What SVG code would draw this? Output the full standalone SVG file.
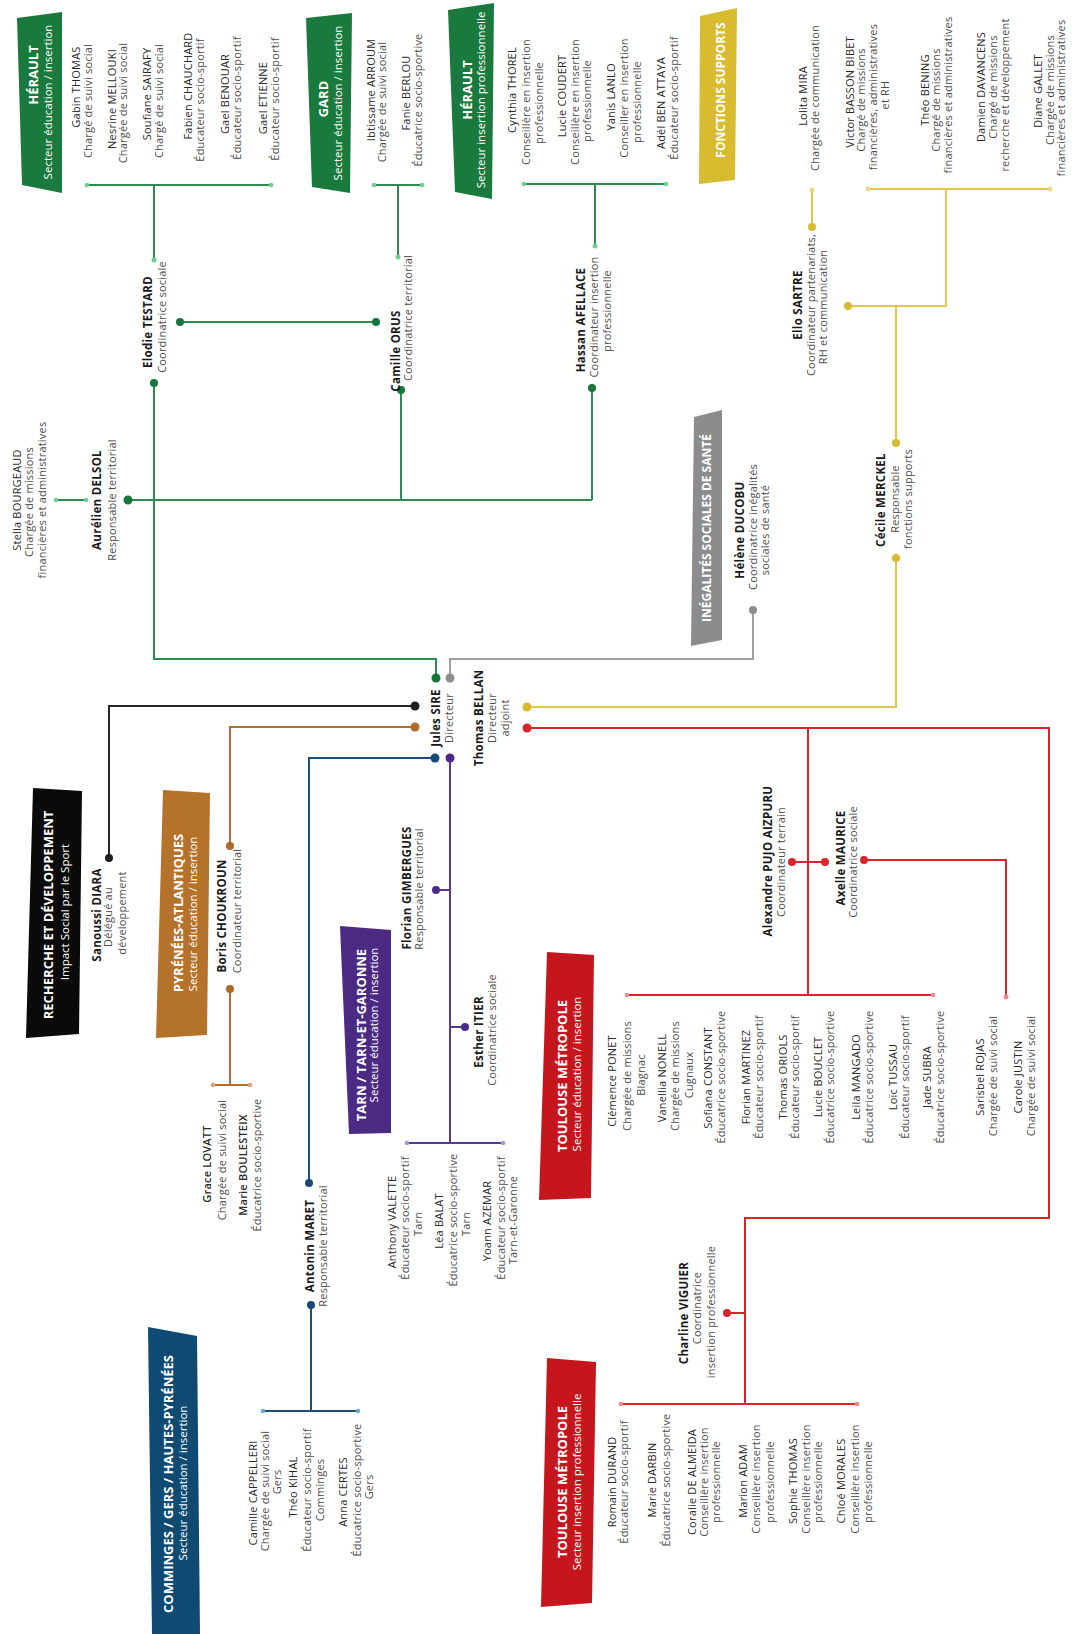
<svg xmlns="http://www.w3.org/2000/svg" width="1077" height="1634" viewBox="0 0 1077 1634">
<style>
text{font-family:"Open Sans","Liberation Sans",sans-serif;text-anchor:middle}
.n{font-size:11px;fill:#2a2a2a;letter-spacing:.2px}
.r{font-size:11px;fill:#4d4d4d;letter-spacing:.2px}
.b{font-size:11.5px;font-weight:700;fill:#1a1a1a;letter-spacing:.3px}
.nb{font-size:11px;font-weight:600;fill:#2a2a2a;letter-spacing:.2px}
.t{font-size:13px;font-weight:700;fill:#fff}
.t12{font-size:12px;font-weight:700;fill:#fff}
.s{font-size:11.5px;fill:#fff}
.ln{fill:none;stroke-width:2}
.g{stroke:#2e8c50}.gy{stroke:#a0a0a0}.y{stroke:#e3c64a}.k{stroke:#262626}.br{stroke:#b5702c}.bl{stroke:#1c4f7c}.pu{stroke:#55389a}.rd{stroke:#d9242b}
.dg{fill:#17763a}.dgl{fill:#6fcf8f}.dgy{fill:#8e8e8e}.dy{fill:#d8b92f}.dyl{fill:#ecd88c}.dk{fill:#1f1f1f}.dbr{fill:#b06a27}.dbrl{fill:#d9a56f}.dbl{fill:#164a76}.dbll{fill:#6aa8d6}.dpu{fill:#4a2b8a}.dpul{fill:#a592d8}.drd{fill:#d9242b}.drdl{fill:#f08a8a}
</style>
<rect width="1077" height="1634" fill="#fff"/>

<g id="connectors">
  <!-- green -->
  <path class="ln g" d="M436,678 V659 H154 V383"/>
  <path class="ln g" d="M180,322 H376"/>
  <path class="ln g" d="M128,500 H592"/>
  <path class="ln g" d="M401,390 V500"/>
  <path class="ln g" d="M592,388 V500"/>
  <path class="ln g" d="M154,260 V185 M87,185 H271"/>
  <path class="ln g" d="M398,257 V185 M374,185 H422"/>
  <path class="ln g" d="M595,246 V184 M524,184 H666"/>
  <path class="ln g" d="M56,500 H86"/>
  <!-- gray -->
  <path class="ln gy" d="M450,678 V659 H753 V610"/>
  <!-- yellow -->
  <path class="ln y" d="M527,707 H896 V558"/>
  <path class="ln y" d="M896,443 V306"/>
  <path class="ln y" d="M848,306 H946 V189"/>
  <path class="ln y" d="M868,189 H1050"/>
  <path class="ln y" d="M812,190 V227"/>
  <!-- black -->
  <path class="ln k" d="M415,706 H109 V858"/>
  <!-- brown -->
  <path class="ln br" d="M415,727 H230 V846"/>
  <path class="ln br" d="M230,989 V1085 M213,1085 H250"/>
  <!-- blue -->
  <path class="ln bl" d="M435,758 H309 V1183"/>
  <path class="ln bl" d="M311,1305 V1411 M263,1411 H358"/>
  <!-- purple -->
  <path class="ln pu" d="M450,758 V1143 M407,1143 H503 M436,890 H450 M450,1027 H465"/>
  <!-- red -->
  <path class="ln rd" d="M527,728 H1049 V1218 H745 V1404"/>
  <path class="ln rd" d="M808,728 V995 M627,995 H933"/>
  <path class="ln rd" d="M792,862 H825"/>
  <path class="ln rd" d="M864,860 H1006 V997"/>
  <path class="ln rd" d="M727,1313 H745"/>
  <path class="ln rd" d="M621,1404 H857"/>
  <!-- dots -->
  <g class="dg">
    <circle cx="436" cy="678" r="4.5"/><circle cx="154" cy="383" r="4"/><circle cx="180" cy="322" r="4"/><circle cx="376" cy="322" r="4"/><circle cx="401" cy="390" r="4"/><circle cx="592" cy="388" r="4"/><circle cx="128" cy="500" r="4.5"/>
  </g>
  <g class="dgl">
    <circle cx="87" cy="185" r="2.3"/><circle cx="271" cy="185" r="2.3"/><circle cx="154" cy="260" r="2.5"/><circle cx="374" cy="185" r="2.3"/><circle cx="422" cy="185" r="2.3"/><circle cx="398" cy="257" r="2.5"/><circle cx="524" cy="184" r="2.3"/><circle cx="666" cy="184" r="2.3"/><circle cx="595" cy="246" r="2.5"/><circle cx="56" cy="500" r="2.3"/><circle cx="86" cy="500" r="2.3"/>
  </g>
  <g class="dgy"><circle cx="450" cy="678" r="4.5"/><circle cx="753" cy="610" r="4"/></g>
  <g class="dy"><circle cx="527" cy="707" r="4.5"/><circle cx="896" cy="558" r="4"/><circle cx="896" cy="443" r="4"/><circle cx="848" cy="306" r="4"/><circle cx="812" cy="227" r="4"/></g>
  <g class="dyl"><circle cx="868" cy="189" r="2.5"/><circle cx="1050" cy="189" r="2.5"/><circle cx="812" cy="190" r="2.5"/></g>
  <g class="dk"><circle cx="415" cy="706" r="4.5"/><circle cx="109" cy="858" r="4"/></g>
  <g class="dbr"><circle cx="415" cy="727" r="4.5"/><circle cx="230" cy="846" r="4"/><circle cx="230" cy="989" r="4"/></g>
  <g class="dbrl"><circle cx="213" cy="1085" r="2.3"/><circle cx="250" cy="1085" r="2.3"/></g>
  <g class="dbl"><circle cx="435" cy="758" r="4.5"/><circle cx="309" cy="1183" r="4"/><circle cx="311" cy="1305" r="4"/></g>
  <g class="dbll"><circle cx="263" cy="1411" r="2.3"/><circle cx="358" cy="1411" r="2.3"/></g>
  <g class="dpu"><circle cx="450" cy="758" r="4.5"/><circle cx="436" cy="890" r="4"/><circle cx="465" cy="1027" r="4"/></g>
  <g class="dpul"><circle cx="407" cy="1143" r="2.3"/><circle cx="503" cy="1143" r="2.3"/></g>
  <g class="drd"><circle cx="527" cy="728" r="4.5"/><circle cx="792" cy="862" r="4"/><circle cx="825" cy="862" r="4"/><circle cx="864" cy="860" r="4"/><circle cx="727" cy="1313" r="4"/></g>
  <g class="drdl"><circle cx="627" cy="995" r="2.3"/><circle cx="933" cy="995" r="2.3"/><circle cx="1006" cy="997" r="2.5"/><circle cx="621" cy="1404" r="2.3"/><circle cx="857" cy="1404" r="2.3"/></g>
</g>

<!-- ===== section boxes ===== -->
<g id="box-herault-edu">
  <polygon points="17,18 62,12 62,193 22,185" fill="#1a7a3d"/>
  <g transform="matrix(0,-1,1,0,0,1634)"><text class="t" x="1559" y="37.5">HÉRAULT</text><text class="s" x="1532" y="52">Secteur éducation / insertion</text></g>
</g>
<g id="box-gard">
  <polygon points="306,18 352,13 350,193 312,187" fill="#1a7a3d"/>
  <g transform="matrix(0,-1,1,0,0,1634)"><text class="t" x="1535" y="327.5">GARD</text><text class="s" x="1531" y="342">Secteur éducation / insertion</text></g>
</g>
<g id="box-herault-ins">
  <polygon points="448,10 494,3 492,199 455,192" fill="#1a7a3d"/>
  <g transform="matrix(0,-1,1,0,0,1634)"><text class="t" x="1544" y="471.5">HÉRAULT</text><text class="s" x="1534" y="485">Secteur insertion professionnelle</text></g>
</g>
<g id="box-fonctions">
  <polygon points="700,16 737,8 735,180 699,184" fill="#d8bb2e"/>
  <g transform="matrix(0,-1,1,0,0,1634)"><text class="t12" x="1544" y="725">FONCTIONS SUPPORTS</text></g>
</g>
<g id="box-inegalites">
  <polygon points="694,417 722,410 722,640 691,646" fill="#8c8c8c"/>
  <g transform="matrix(0,-1,1,0,0,1634)"><text class="t12" x="1106" y="710.5">INÉGALITÉS SOCIALES DE SANTÉ</text></g>
</g>
<g id="box-recherche">
  <polygon points="33,788 82,791 79,1034 26,1038" fill="#0a0a0a"/>
  <g transform="matrix(0,-1,1,0,0,1634)"><text class="t" x="719" y="52.5">RECHERCHE ET DÉVELOPPEMENT</text><text class="s" x="722" y="69">Impact Social par le Sport</text></g>
</g>
<g id="box-pyrenees">
  <polygon points="163,790 210,793 207,1035 156,1038" fill="#b5722b"/>
  <g transform="matrix(0,-1,1,0,0,1634)"><text class="t" x="721" y="182.5">PYRÉNÉES-ATLANTIQUES</text><text class="s" x="720" y="197">Secteur éducation / insertion</text></g>
</g>
<g id="box-tarn">
  <polygon points="340,926 391,930 391,1133 349,1134" fill="#4b2a84"/>
  <g transform="matrix(0,-1,1,0,0,1634)"><text class="t" x="599" y="365.5">TARN / TARN-ET-GARONNE</text><text class="s" x="609" y="378">Secteur éducation / insertion</text></g>
</g>
<g id="box-toulouse-edu">
  <polygon points="547,952 594,955 591,1198 539,1200" fill="#c5161d"/>
  <g transform="matrix(0,-1,1,0,0,1634)"><text class="t" x="558" y="566.5">TOULOUSE MÉTROPOLE</text><text class="s" x="560" y="581">Secteur éducation / insertion</text></g>
</g>
<g id="box-comminges">
  <polygon points="148,1327 197,1336 200,1634 152,1634" fill="#0e4a72"/>
  <g transform="matrix(0,-1,1,0,0,1634)"><text class="t" x="150" y="172.5">COMMINGES / GERS / HAUTES-PYRÉNÉES</text><text class="s" x="151" y="187">Secteur éducation / insertion</text></g>
</g>
<g id="box-toulouse-ins">
  <polygon points="547,1358 596,1362 592,1603 541,1607" fill="#c5161d"/>
  <g transform="matrix(0,-1,1,0,0,1634)"><text class="t" x="152" y="566.5">TOULOUSE MÉTROPOLE</text><text class="s" x="152" y="581">Secteur insertion professionnelle</text></g>
</g>

<!-- ===== people ===== -->
<g transform="matrix(0,-1,1,0,0,1634)">
  <!-- Hérault éducation -->
  <g id="p-gabin-thomas"><text class="n" x="1547" y="80">Gabin THOMAS</text><text class="r" x="1533" y="92">Chargé de suivi social</text></g>
  <g id="p-nesrine-mellouki"><text class="n" x="1535" y="116">Nesrine MELLOUKI</text><text class="r" x="1531" y="127">Chargée de suivi social</text></g>
  <g id="p-soufiane-sairafy"><text class="n" x="1540" y="151">Soufiane SAIRAFY</text><text class="r" x="1533" y="163">Chargé de suivi social</text></g>
  <g id="p-fabien-chauchard"><text class="n" x="1548" y="192">Fabien CHAUCHARD</text><text class="r" x="1534" y="204">Éducateur socio-sportif</text></g>
  <g id="p-gael-benouar"><text class="n" x="1540" y="229">Gael BENOUAR</text><text class="r" x="1536" y="241">Éducateur socio-sportif</text></g>
  <g id="p-gael-etienne"><text class="n" x="1536" y="267">Gael ETIENNE</text><text class="r" x="1535" y="279">Éducateur socio-sportif</text></g>
  <!-- Gard -->
  <g id="p-ibtissame-arroum"><text class="n" x="1544" y="375">Ibtissame ARROUM</text><text class="r" x="1532" y="386">Chargée de suivi social</text></g>
  <g id="p-fanie-berlou"><text class="n" x="1541" y="410">Fanie BERLOU</text><text class="r" x="1534" y="422">Éducatrice socio-sportive</text></g>
  <!-- Hérault insertion -->
  <g id="p-cynthia-thorel"><text class="n" x="1544" y="516">Cynthia THOREL</text><text class="r" x="1532" y="530">Conseillère en insertion</text><text class="r" x="1531" y="543">professionnelle</text></g>
  <g id="p-lucie-coudert"><text class="n" x="1538" y="566">Lucie COUDERT</text><text class="r" x="1532" y="579">Conseillère en insertion</text><text class="r" x="1533" y="591">professionnelle</text></g>
  <g id="p-yanis-lanlo"><text class="n" x="1537" y="615">Yanis LANLO</text><text class="r" x="1536" y="628">Conseiller en insertion</text><text class="r" x="1532" y="641">professionnelle</text></g>
  <g id="p-adel-ben-attaya"><text class="n" x="1531" y="665">Adél BEN ATTAYA</text><text class="r" x="1536" y="678">Éducateur socio-sportif</text></g>
  <!-- Fonctions supports -->
  <g id="p-lolita-mira"><text class="n" x="1538" y="807">Lolita MIRA</text><text class="r" x="1536" y="819">Chargée de communication</text></g>
  <g id="p-victor-basson-bibet"><text class="n" x="1542" y="854">Victor BASSON BIBET</text><text class="r" x="1534" y="865">Chargé de missions</text><text class="r" x="1537" y="877">financières, administratives</text><text class="r" x="1539" y="889">et RH</text></g>
  <g id="p-theo-bening"><text class="n" x="1544" y="929">Théo BENING</text><text class="r" x="1534" y="940">Chargé de missions</text><text class="r" x="1539" y="952">financières et administratives</text></g>
  <g id="p-damien-davancens"><text class="n" x="1547" y="985">Damien DAVANCENS</text><text class="r" x="1547" y="997">Chargé de missions</text><text class="r" x="1539" y="1009">recherche et développement</text></g>
  <g id="p-diane-gallet"><text class="n" x="1543" y="1042">Diane GALLET</text><text class="r" x="1544" y="1054">Chargée de missions</text><text class="r" x="1536" y="1065">financières et administratives</text></g>
  <!-- leaders -->
  <g id="p-elodie-testard"><text class="b" x="1312" y="152">Elodie TESTARD</text><text class="r" x="1317" y="166">Coordinatrice sociale</text></g>
  <g id="p-camille-orus"><text class="b" x="1283" y="400">Camille ORUS</text><text class="r" x="1316" y="412">Coordinatrice territorial</text></g>
  <g id="p-hassan-afellace"><text class="b" x="1314" y="585">Hassan AFELLACE</text><text class="r" x="1317" y="598">Coordinateur insertion</text><text class="r" x="1323" y="611">professionnelle</text></g>
  <g id="p-ello-sartre"><text class="b" x="1329" y="802">Ello SARTRE</text><text class="r" x="1329" y="815">Coordinateur partenariats,</text><text class="r" x="1327" y="827">RH et communication</text></g>
  <g id="p-stella-bourgeaud"><text class="n" x="1134" y="21">Stella BOURGEAUD</text><text class="r" x="1132" y="33">Chargée de missions</text><text class="r" x="1134" y="46">financières et administratives</text></g>
  <g id="p-aurelien-delsol"><text class="b" x="1134" y="101">Aurélien DELSOL</text><text class="r" x="1134" y="116">Responsable territorial</text></g>
  <g id="p-helene-ducobu"><text class="b" x="1104" y="744">Hélène DUCOBU</text><text class="r" x="1107" y="757">Coordinatrice inégalités</text><text class="r" x="1104" y="769">sociales de santé</text></g>
  <g id="p-cecile-merckel"><text class="b" x="1134" y="885">Cécile MERCKEL</text><text class="r" x="1135" y="899">Responsable</text><text class="r" x="1135" y="912">fonctions supports</text></g>
  <g id="p-jules-sire"><text class="b" x="916" y="440">Jules SIRE</text><text class="r" x="916" y="453">Directeur</text></g>
  <g id="p-thomas-bellan"><text class="b" x="916" y="483">Thomas BELLAN</text><text class="r" x="916" y="496">Directeur</text><text class="r" x="916" y="509">adjoint</text></g>
  <!-- left branches -->
  <g id="p-sanoussi-diara"><text class="b" x="719" y="101">Sanoussi DIARA</text><text class="r" x="717" y="112">Délégué au</text><text class="r" x="721" y="126">développement</text></g>
  <g id="p-boris-choukroun"><text class="b" x="718" y="226">Boris CHOUKROUN</text><text class="r" x="723" y="241">Coordinateur territorial</text></g>
  <g id="p-grace-lovatt"><text class="nb" x="470" y="211">Grace LOVATT</text><text class="r" x="474" y="226">Chargée de suivi social</text></g>
  <g id="p-marie-boulesteix"><text class="nb" x="469" y="247">Marie BOULESTEIX</text><text class="r" x="469" y="261">Éducatrice socio-sportive</text></g>
  <g id="p-antonin-maret"><text class="b" x="388" y="314">Antonin MARET</text><text class="r" x="388" y="327">Responsable territorial</text></g>
  <g id="p-camille-cappelleri"><text class="n" x="141" y="257">Camille CAPPELLERI</text><text class="r" x="143" y="269">Chargée de suivi social</text><text class="r" x="152" y="281">Gers</text></g>
  <g id="p-theo-kihal"><text class="n" x="147" y="297">Théo KIHAL</text><text class="r" x="144" y="311">Éducateur socio-sportif</text><text class="r" x="144" y="324">Comminges</text></g>
  <g id="p-anna-certes"><text class="n" x="142" y="347">Anna CERTES</text><text class="r" x="144" y="361">Éducatrice socio-sportive</text><text class="r" x="147" y="373">Gers</text></g>
  <!-- Tarn -->
  <g id="p-florian-gimbergues"><text class="b" x="746" y="411">Florian GIMBERGUES</text><text class="r" x="745" y="423">Responsable territorial</text></g>
  <g id="p-esther-itier"><text class="b" x="602" y="483">Esther ITIER</text><text class="r" x="604" y="496">Coordinatrice sociale</text></g>
  <g id="p-anthony-valette"><text class="n" x="412" y="396">Anthony VALETTE</text><text class="r" x="416" y="409">Éducateur socio-sportif</text><text class="r" x="410" y="422">Tarn</text></g>
  <g id="p-lea-balat"><text class="n" x="413" y="443">Léa BALAT</text><text class="r" x="414" y="457">Éducatrice socio-sportive</text><text class="r" x="410" y="470">Tarn</text></g>
  <g id="p-yoann-azemar"><text class="n" x="413" y="491">Yoann AZEMAR</text><text class="r" x="416" y="505">Éducateur socio-sportif</text><text class="r" x="414" y="517">Tarn-et-Garonne</text></g>
  <!-- Toulouse éducation -->
  <g id="p-alexandre-pujo-aizpuru"><text class="b" x="773" y="772">Alexandre PUJO AIZPURU</text><text class="r" x="772" y="785">Coordinateur terrain</text></g>
  <g id="p-axelle-maurice"><text class="b" x="776" y="845">Axelle MAURICE</text><text class="r" x="772" y="857">Coordinatrice sociale</text></g>
  <g id="p-clemence-ponet"><text class="n" x="553" y="616">Clémence PONET</text><text class="r" x="558" y="631">Chargée de missions</text><text class="r" x="559" y="645">Blagnac</text></g>
  <g id="p-vanellia-nonell"><text class="n" x="556" y="666">Vanellia NONELL</text><text class="r" x="558" y="679">Chargée de missions</text><text class="r" x="559" y="693">Cugnaux</text></g>
  <g id="p-sofiana-constant"><text class="n" x="556" y="712">Sofiana CONSTANT</text><text class="r" x="557" y="725">Éducatrice socio-sportive</text></g>
  <g id="p-florian-martinez"><text class="n" x="557" y="750">Florian MARTINEZ</text><text class="r" x="557" y="763">Éducateur socio-sportif</text></g>
  <g id="p-thomas-oriols"><text class="n" x="557" y="787">Thomas ORIOLS</text><text class="r" x="557" y="799">Éducateur socio-sportif</text></g>
  <g id="p-lucie-bouclet"><text class="n" x="557" y="822">Lucie BOUCLET</text><text class="r" x="557" y="834">Éducatrice socio-sportive</text></g>
  <g id="p-leila-mangado"><text class="n" x="557" y="860">Leila MANGADO</text><text class="r" x="557" y="873">Éducatrice socio-sportive</text></g>
  <g id="p-loic-tussau"><text class="n" x="557" y="897">Loïc TUSSAU</text><text class="r" x="557" y="909">Éducateur socio-sportif</text></g>
  <g id="p-jade-subra"><text class="n" x="557" y="931">Jade SUBRA</text><text class="r" x="557" y="944">Éducatrice socio-sportive</text></g>
  <g id="p-sarisbel-rojas"><text class="n" x="557" y="984">Sarisbel ROJAS</text><text class="r" x="558" y="997">Chargée de suivi social</text></g>
  <g id="p-carole-justin"><text class="n" x="557" y="1022">Carole JUSTIN</text><text class="r" x="558" y="1035">Chargée de suivi social</text></g>
  <!-- Toulouse insertion -->
  <g id="p-charline-viguier"><text class="b" x="321" y="688">Charline VIGUIER</text><text class="r" x="326" y="701">Coordinatrice</text><text class="r" x="322" y="715">insertion professionnelle</text></g>
  <g id="p-romain-durand"><text class="n" x="152" y="616">Romain DURAND</text><text class="r" x="152" y="628">Éducateur socio-sportif</text></g>
  <g id="p-marie-darbin"><text class="n" x="154" y="656">Marie DARBIN</text><text class="r" x="154" y="670">Éducatrice socio-sportive</text></g>
  <g id="p-coralie-de-almeida"><text class="n" x="152" y="696">Coralie DE ALMEIDA</text><text class="r" x="152" y="708">Conseillère insertion</text><text class="r" x="152" y="720">professionnelle</text></g>
  <g id="p-marion-adam"><text class="n" x="153" y="747">Marion ADAM</text><text class="r" x="155" y="760">Conseillère insertion</text><text class="r" x="152" y="774">professionnelle</text></g>
  <g id="p-sophie-thomas"><text class="n" x="153" y="797">Sophie THOMAS</text><text class="r" x="155" y="810">Conseillère insertion</text><text class="r" x="152" y="822">professionnelle</text></g>
  <g id="p-chloe-morales"><text class="n" x="153" y="845">Chloé MORALES</text><text class="r" x="155" y="859">Conseillère insertion</text><text class="r" x="152" y="872">professionnelle</text></g>
</g>
</svg>
